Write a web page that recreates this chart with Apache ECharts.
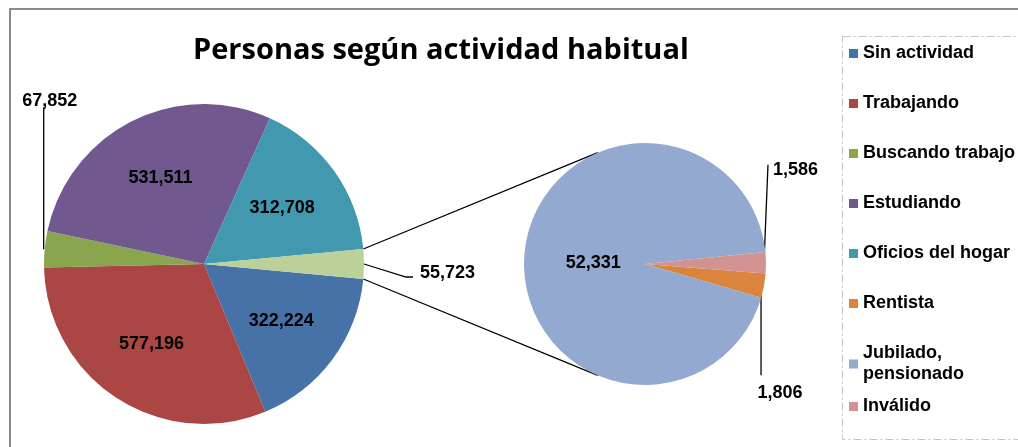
<!DOCTYPE html>
<html>
<head>
<meta charset="utf-8">
<script src="https://cdn.jsdelivr.net/npm/echarts@6/dist/echarts.min.js"></script>
<style>
  html, body { margin: 0; padding: 0; background: #fff; }
  #main { width: 1018px; height: 447px; }
</style>
</head>
<body>
<div id="main"></div>
<script>
  // pastel principal
  var mainNames = ['Sin actividad', 'Trabajando', 'Buscando trabajo', 'Estudiando', 'Oficios del hogar', 'Otros'];
  var mainValues = [322224, 577196, 67852, 531511, 312708, 55723];
  var mainColors = ['#4672A8', '#AA4643', '#89A54E', '#71588F', '#4198AF', '#BBD198'];

  // pastel secundario (desglose de "Otros")
  var subNames = ['Rentista', 'Jubilado, pensionado', 'Inválido'];
  var subValues = [1806, 52331, 1586];
  var subColors = ['#DB843D', '#93A9CF', '#D19392'];

  var legendNames = ['Sin actividad', 'Trabajando', 'Buscando trabajo', 'Estudiando', 'Oficios del hogar', 'Rentista', 'Jubilado, pensionado'];
  var legendLast = ['Inválido'];

  // geometria
  var C1 = [204, 264], R1 = 160;
  var C2 = [645, 264], R2 = 121;
  var otherIdx = 5;
  var start2 = 4.5;   // grados, sentido horario desde las 3

  function sum(a) { return a.reduce(function (s, v) { return s + v }, 0) }
  var total1 = sum(mainValues);
  var total2 = sum(subValues);
  var half1 = mainValues[otherIdx] / total1 * 180;

  // angulos medios en pantalla (horario, y hacia abajo)
  function mids(values, total, start) {
    var acc = 0, out = [];
    values.forEach(function (v) {
      out.push(start + (acc + v / 2) / total * 360);
      acc += v;
    });
    return out;
  }
  var mid1 = mids(mainValues, total1, half1);
  var mid2 = mids(subValues, total2, start2);

  function pt(c, r, deg, k) {
    var a = deg * Math.PI / 180;
    return [c[0] + k * r * Math.cos(a), c[1] + k * r * Math.sin(a)];
  }

  var labelFont = {color: '#000', fontWeight: 'bold', fontSize: 18, fontFamily: 'Liberation Sans, Arial, sans-serif'};
  var outsideLine = {show: true, lineStyle: {color: '#000', width: 1.3}};

  function fmt(p) { return echarts.format.addCommas(p.value) }

  var mainData = mainNames.map(function (n, i) {
    var item = {name: n, value: mainValues[i], itemStyle: {color: mainColors[i]}};
    if (i === 2 || i === otherIdx) {
      item.label = {position: 'outside'};
      item.labelLine = outsideLine;
    }
    return item;
  });
  var subData = subNames.map(function (n, i) {
    var item = {name: n, value: subValues[i], itemStyle: {color: subColors[i]}};
    if (i !== 1) {
      item.label = {position: 'outside'};
      item.labelLine = outsideLine;
    }
    return item;
  });

  var chart = echarts.init(document.getElementById('main'));

  // lineas de union entre los dos pasteles
  var a1 = pt(C1, R1, -half1, 1), b1 = pt(C1, R1, half1, 1);
  var a2 = pt(C2, R2, -113, 1), b2 = pt(C2, R2, 113, 1);

  var legendText = {color: '#000', fontWeight: 'bold', fontSize: 18, lineHeight: 21, fontFamily: 'Liberation Sans, Arial, sans-serif'};

  var option = {
    animation: false,
    title: {
      text: 'Personas según actividad habitual',
      left: 188,
      top: 31,
      textStyle: {fontFamily: 'Open Sans, sans-serif', fontWeight: 'bold', fontSize: 29, color: '#000'}
    },
    legend: [
      {
        data: legendNames,
        orient: 'vertical',
        left: 849,
        top: 43,
        padding: 0,
        itemWidth: 9,
        itemHeight: 9,
        itemGap: 29,
        icon: 'rect',
        formatter: function (n) { return n.replace(', ', ',\n') },
        textStyle: legendText
      },
      {
        data: legendLast,
        orient: 'vertical',
        left: 849,
        top: 396,
        padding: 0,
        itemWidth: 9,
        itemHeight: 9,
        icon: 'rect',
        textStyle: legendText
      }
    ],
    graphic: [
      {type: 'rect', shape: {x: 10, y: 9, width: 1040, height: 470}, style: {fill: 'none', stroke: '#8c8c8c', lineWidth: 2}, silent: true},
      {type: 'rect', shape: {x: 842.5, y: 36.5, width: 200, height: 403}, style: {fill: 'none', stroke: '#c4c4c4', lineWidth: 1, lineDash: [8, 3, 2, 3]}, silent: true},
      {type: 'line', shape: {x1: a1[0], y1: a1[1], x2: a2[0], y2: a2[1]}, style: {stroke: '#000', lineWidth: 1.3}, silent: true},
      {type: 'line', shape: {x1: b1[0], y1: b1[1], x2: b2[0], y2: b2[1]}, style: {stroke: '#000', lineWidth: 1.3}, silent: true}
    ],
    series: [
      {
        name: 'Actividad',
        type: 'pie',
        center: C1,
        radius: R1,
        startAngle: -half1,
        clockwise: true,
        avoidLabelOverlap: false,
        data: mainData,
        label: Object.assign({show: true, position: 'inside', formatter: fmt}, labelFont),
        labelLine: {show: false},
        labelLayout: function (p) {
          var i = p.dataIndex;
          var e = pt(C1, R1, mid1[i], 1);
          if (i === 2) {
            var top = C1[1] - 0.98 * R1;
            return {x: e[0] + 5, y: top + 3, align: 'center', verticalAlign: 'bottom',
              labelLinePoints: [[e[0] - 1, e[1]], [e[0] - 1, top], [e[0] - 1, top]]};
          }
          if (i === otherIdx) {
            return {x: e[0] + 56, y: e[1] + 9, align: 'left', verticalAlign: 'middle',
              labelLinePoints: [[e[0], e[1]], [e[0] + 42, e[1] + 13], [e[0] + 49, e[1] + 13]]};
          }
          var m = pt(C1, R1, mid1[i], 0.6);
          return {x: m[0], y: m[1], align: 'center', verticalAlign: 'middle'};
        },
        emphasis: {disabled: true}
      },
      {
        name: 'Otros',
        type: 'pie',
        center: C2,
        radius: R2,
        startAngle: -start2,
        clockwise: true,
        avoidLabelOverlap: false,
        data: subData,
        label: Object.assign({show: true, position: 'inside', formatter: fmt}, labelFont),
        labelLine: {show: false},
        labelLayout: function (p) {
          var i = p.dataIndex;
          var e = pt(C2, R2, mid2[i], 1);
          if (i === 2) {
            var y1 = C2[1] - 0.82 * R2;
            return {x: e[0] + 7, y: C2[1] - 0.78 * R2, align: 'left', verticalAlign: 'middle',
              labelLinePoints: [[e[0] - 2, e[1]], [e[0] + 2, y1], [e[0] + 2, y1]]};
          }
          if (i === 0) {
            var y2 = C2[1] + 0.92 * R2;
            return {x: e[0] + 16, y: C2[1] + 0.99 * R2, align: 'center', verticalAlign: 'top',
              labelLinePoints: [[e[0] - 3, e[1]], [e[0] - 3, y2], [e[0] - 3, y2]]};
          }
          var m = pt(C2, R2, mid2[i], 0.43);
          return {x: m[0], y: m[1] + 4, align: 'center', verticalAlign: 'middle'};
        },
        emphasis: {disabled: true}
      }
    ]
  };

  chart.setOption(option);
</script>
</body>
</html>
